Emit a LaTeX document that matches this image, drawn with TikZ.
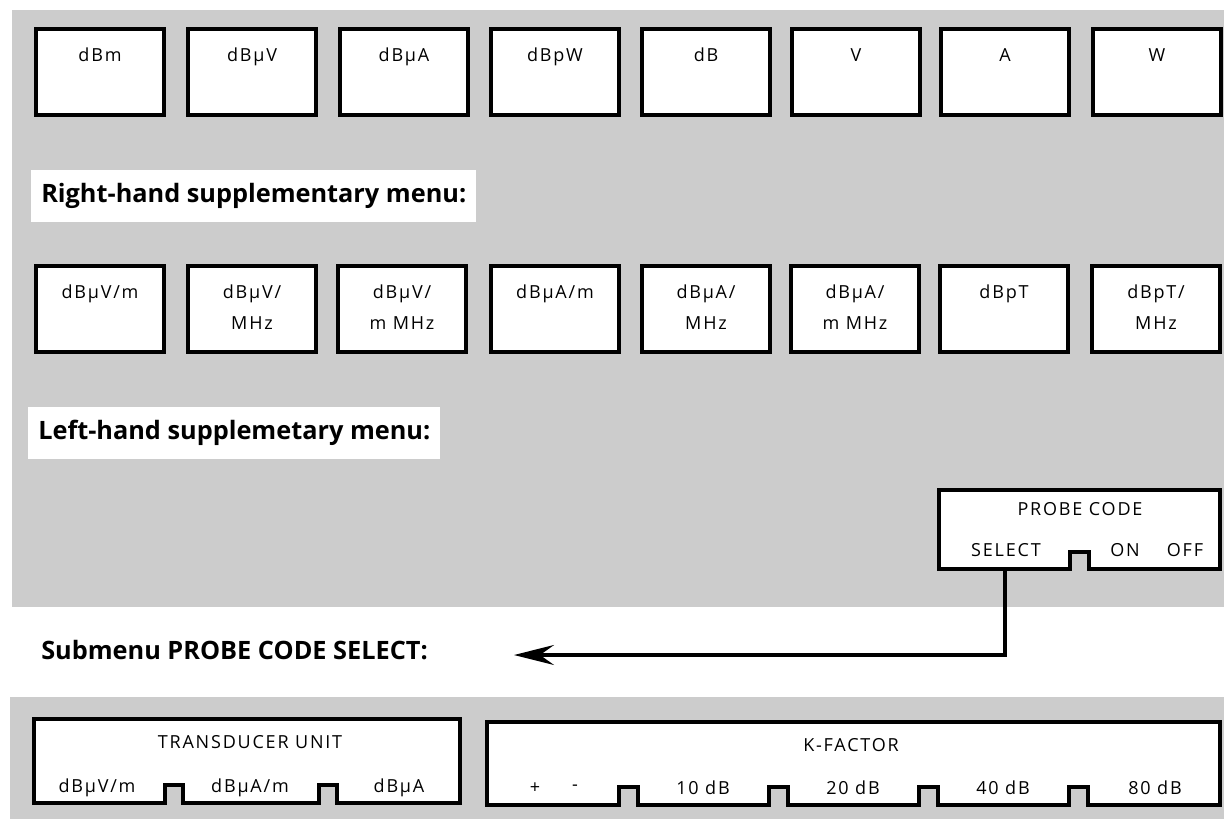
\documentclass[tikz,border=0pt]{standalone}
\usepackage{fontspec}
\setmainfont{Open Sans}
\newfontfamily\keyfont[LetterSpace=10]{Open Sans}
\usetikzlibrary{arrows.meta,positioning,calc}
\definecolor{screen}{gray}{0.8}
\newcommand{\twolines}[2]{\begin{tabular}[t]{@{}c@{}}#1\\#2\end{tabular}}

\begin{document}
\begin{tikzpicture}[x=0.25mm,y=-0.25mm,
  key/.style={draw,line width=0.9mm,fill=white,minimum width=32mm,inner sep=0pt,
    text height=8.1mm,text depth=13.5mm,font={\keyfont\fontsize{12.8}{22}\selectfont}},
  panel/.style={draw,line width=0.9mm,fill=white,line join=miter},
  lab/.style={font={\keyfont\fontsize{12.8}{14}\selectfont},inner sep=1pt},
  head/.style={fill=white,anchor=west,inner xsep=2.5mm,minimum height=13mm,
    font={\bfseries\fontsize{18}{22}\selectfont}},
  arc/.style={-{Stealth[length=10mm,width=5mm,inset=3.5mm]},line width=0.8mm}
]
\useasboundingbox (0,0) rectangle (1224,819);
\fill[screen] (12,10) rectangle (1224,607);
\fill[screen] (10,697) rectangle (1224,819);

% unit keys
\node[key] (dbm) at (100,72) {dBm};
\node[key] (dbuv) at (252,72) {dBµV};
\node[key] (dbua) at (404,72) {dBµA};
\node[key] (dbpw) at (555,72) {dBpW};
\node[key] (db) at (706,72) {dB};
\node[key] (volt) at (856,72) {V};
\node[key] (amp) at (1005,72) {A};
\node[key] (watt) at (1157,72) {W};

\node[head] (righthead) at (31,196) {Right-hand supplementary menu:};

\node[key] (uvm) at (100,309) {dBµV/m};
\node[key] (uvmhz) at (252,309) {\twolines{dBµV/}{MHz}};
\node[key] (uvmmhz) at (402,309) {\twolines{dBµV/}{m MHz}};
\node[key] (uam) at (555,309) {dBµA/m};
\node[key] (uamhz) at (706,309) {\twolines{dBµA/}{MHz}};
\node[key] (uammhz) at (855,309) {\twolines{dBµA/}{m MHz}};
\node[key] (pt) at (1004,309) {dBpT};
\node[key] (ptmhz) at (1156,309) {\twolines{dBpT/}{MHz}};

\node[head] (lefthead) at (28,433) {Left-hand supplemetary menu:};

% probe code softkey
\draw[panel] (939,490) -- (1220,490) -- (1220,569) -- (1089,569) -- (1089,552)
  -- (1070,552) -- (1070,569) -- (939,569) -- cycle;
\node[lab] (probetitle) at (1080,509) {PROBE CODE};
\node[lab] (sel) at (1006,550) {SELECT};
\node[lab] (on) at (1125,550) {ON};
\node[lab] (off) at (1185,550) {OFF};

\node[head] (submenu) at (31,650) {Submenu PROBE CODE SELECT:};
\coordinate (selfoot) at (1005,569);
\coordinate (arrowtip) at (514,655);
\draw[arc] (selfoot) |- (arrowtip);

% submenu
\draw[panel] (34,719) -- (460,719) -- (460,803) -- (337,803) -- (337,785) -- (319,785)
  -- (319,803) -- (183,803) -- (183,785) -- (165,785) -- (165,803) -- (34,803) -- cycle;
\node[lab] (tduhead) at (250,742) {TRANSDUCER UNIT};
\node[lab] (tduv) at (97,788) {dBµV/m};
\node[lab] (tdua) at (250,788) {dBµA/m};
\node[lab] (tdubare) at (399,788) {dBµA};

\draw[panel] (487,722) -- (1220,722) -- (1220,805) -- (1088,805) -- (1088,787) -- (1069,787)
  -- (1069,805) -- (938,805) -- (938,787) -- (919,787) -- (919,805) -- (788,805)
  -- (788,787) -- (769,787) -- (769,805) -- (638,805) -- (638,787) -- (619,787)
  -- (619,805) -- (487,805) -- cycle;
\node[lab] (kfhead) at (851,745) {K-FACTOR};
\node[lab] (kplus) at (535,788) {+};
\node[lab] (kminus) at (575,788) {-};
\node[lab] (k10) at (703,788) {10 dB};
\node[lab] (k20) at (853,788) {20 dB};
\node[lab] (k40) at (1003,788) {40 dB};
\node[lab] (k80) at (1155,788) {80 dB};
\end{tikzpicture}
\end{document}
